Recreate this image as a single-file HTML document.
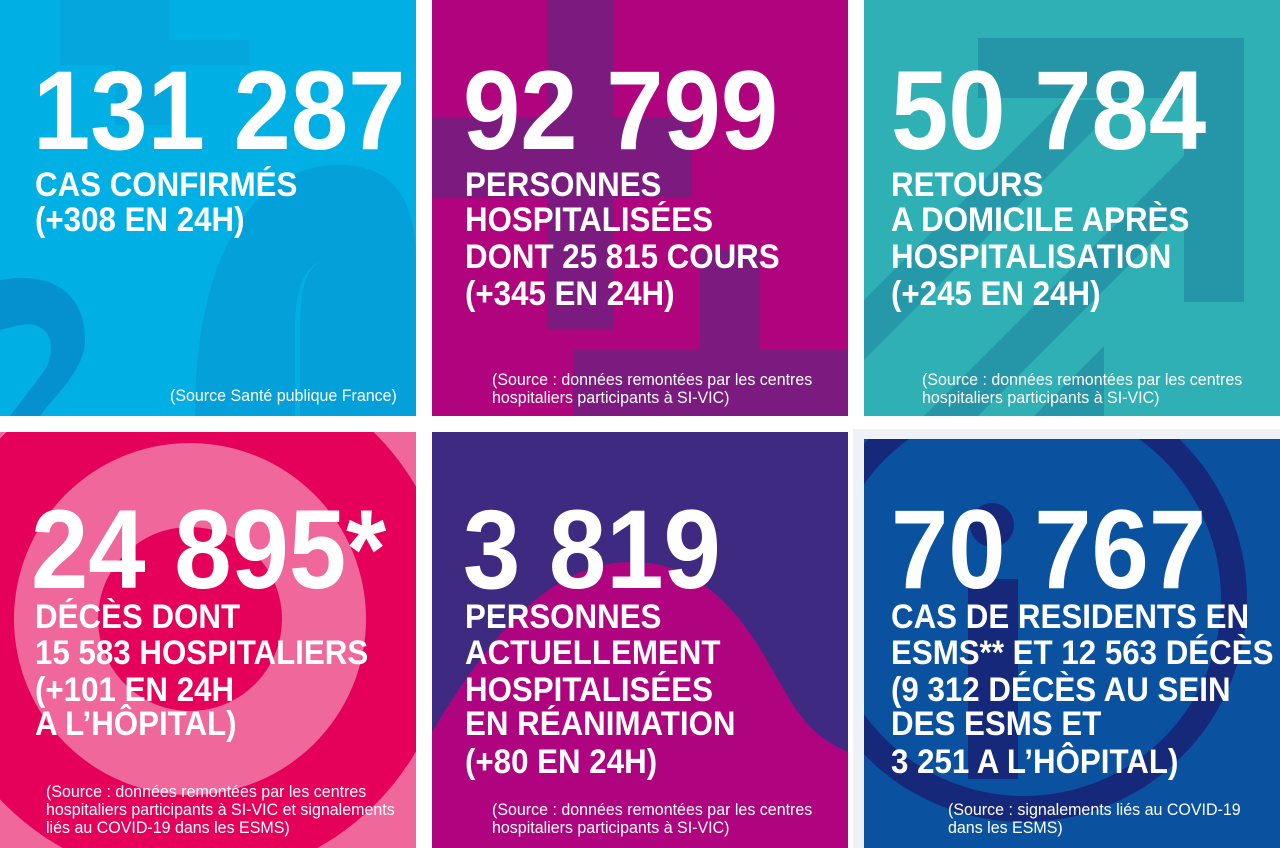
<!DOCTYPE html>
<html><head><meta charset="utf-8"><style>
*{margin:0;padding:0}
body{width:1280px;height:848px;background:#fff;position:relative;overflow:hidden;font-family:"Liberation Sans",Arial,sans-serif;color:#fff}
.t{position:absolute;overflow:hidden}
.t svg{position:absolute;left:0;top:0}
.n{position:absolute;font-weight:bold;font-size:112px;line-height:1;white-space:nowrap;transform:scaleX(0.92);transform-origin:0 0}
.l{position:absolute;font-weight:bold;font-size:34px;line-height:36px;white-space:nowrap;transform:scaleX(0.92);transform-origin:0 0}
.s{position:absolute;font-size:16.5px;line-height:18px;white-space:nowrap;transform:scaleX(0.97);transform-origin:0 0}
</style></head><body>
<div style="position:absolute;left:853px;top:429px;width:427px;height:419px;background:#eef2f7"></div>

<div class="t" style="left:0;top:0;width:416px;height:416px;background:#00b0e4">
<svg width="416" height="416"><path d="M60 0h110v40h80v25h-80v60h-55v-60H60z" fill="#04a6dd"/>
<path d="M0 280 C60 270 85 300 85 340 C85 370 55 395 40 416 H10 L45 370 C60 340 45 320 20 325 L0 330z" fill="#0590d0"/>
<path d="M195 416 C195 260 250 165 340 165 C400 165 416 210 416 260 V416 H300 V330 C300 280 310 260 330 260 C300 260 295 300 295 330 V416z" fill="#03a0da"/></svg>
<div class="n" style="left:33px;top:55px">131 287</div>
<div class="l" style="left:35px;top:167px">CAS CONFIRMÉS</div>
<div class="l" style="left:35px;top:202px">(+308 EN 24H)</div>
<div class="s" style="left:170px;top:387px">(Source Santé publique France)</div>
</div>

<div class="t" style="left:432px;top:0;width:416px;height:416px;background:#b0047e">
<svg width="416" height="416"><rect x="115" y="0" width="66" height="330" fill="#7b1b7f"/><rect x="0" y="117" width="260" height="81" fill="#7b1b7f"/>
<rect x="268" y="250" width="60" height="166" fill="#7b1b7f"/><rect x="141" y="350" width="275" height="66" fill="#7b1b7f"/></svg>
<div class="n" style="left:31px;top:55px">92 799</div>
<div class="l" style="left:33px;top:167px">PERSONNES</div>
<div class="l" style="left:33px;top:202px">HOSPITALISÉES</div>
<div class="l" style="left:33px;top:239px">DONT 25 815 COURS</div>
<div class="l" style="left:33px;top:276px">(+345 EN 24H)</div>
<div class="s" style="left:60px;top:371px">(Source : données remontées par les centres<br>hospitaliers participants à SI-VIC)</div>
</div>

<div class="t" style="left:864px;top:0;width:416px;height:416px;background:#2fb0b4">
<svg width="416" height="416"><path d="M114 38H380V302H320V98H114z" fill="#2596a8"/>
<path d="M0 300 L200 100 L260 100 L60 300 L0 360z" fill="#2596a8" opacity=".9"/>
<path d="M60 416 L330 146 L330 200 L114 416z" fill="#2596a8"/>
<path d="M170 416 L240 346 L240 416z" fill="#2596a8"/></svg>
<div class="n" style="left:27px;top:55px">50 784</div>
<div class="l" style="left:27px;top:167px">RETOURS</div>
<div class="l" style="left:27px;top:202px">A DOMICILE APRÈS</div>
<div class="l" style="left:27px;top:239px">HOSPITALISATION</div>
<div class="l" style="left:27px;top:276px">(+245 EN 24H)</div>
<div class="s" style="left:58px;top:371px">(Source : données remontées par les centres<br>hospitaliers participants à SI-VIC)</div>
</div>

<div class="t" style="left:0;top:432px;width:416px;height:416px;background:#f0689b">
<svg width="416" height="416"><circle cx="190" cy="187" r="262" fill="#e5005a"/><circle cx="190" cy="187" r="176" fill="#f0689b"/><circle cx="190" cy="187" r="92" fill="#e5005a"/></svg>
<div class="n" style="left:31px;top:62px">24 895*</div>
<div class="l" style="left:35px;top:167px">DÉCÈS DONT</div>
<div class="l" style="left:35px;top:203px">15 583 HOSPITALIERS</div>
<div class="l" style="left:35px;top:240px">(+101 EN 24H</div>
<div class="l" style="left:35px;top:274px">A L’HÔPITAL)</div>
<div class="s" style="left:46px;top:351px">(Source : données remontées par les centres<br>hospitaliers participants à SI-VIC et signalements<br>liés au COVID-19 dans les ESMS)</div>
</div>

<div class="t" style="left:432px;top:432px;width:416px;height:416px;background:#3f2a82">
<svg width="416" height="416"><path d="M0 416 V300 C60 200 120 130 200 130 C260 130 300 170 330 220 C360 270 370 300 416 320 V416z" fill="#b0037f"/></svg>
<div class="n" style="left:31px;top:62px">3 819</div>
<div class="l" style="left:33px;top:167px">PERSONNES</div>
<div class="l" style="left:33px;top:203px">ACTUELLEMENT</div>
<div class="l" style="left:33px;top:240px">HOSPITALISÉES</div>
<div class="l" style="left:33px;top:274px">EN RÉANIMATION</div>
<div class="l" style="left:33px;top:312px">(+80 EN 24H)</div>
<div class="s" style="left:60px;top:369px">(Source : données remontées par les centres<br>hospitaliers participants à SI-VIC)</div>
</div>

<div class="t" style="left:864px;top:439px;width:416px;height:409px;background:#0a52a0">
<svg width="416" height="409"><circle cx="160" cy="160" r="210" fill="none" stroke="#15287a" stroke-width="26"/>
<circle cx="128" cy="86" r="22" fill="#15287a"/><rect x="104" y="140" width="50" height="200" fill="#15287a"/></svg>
<div class="n" style="left:27px;top:55px">70 767</div>
<div class="l" style="left:27px;top:160px">CAS DE RESIDENTS EN</div>
<div class="l" style="left:27px;top:196px">ESMS** ET 12 563 DÉCÈS</div>
<div class="l" style="left:27px;top:233px">(9 312 DÉCÈS AU SEIN</div>
<div class="l" style="left:27px;top:267px">DES ESMS ET</div>
<div class="l" style="left:27px;top:305px">3 251 A L’HÔPITAL)</div>
<div class="s" style="left:84px;top:362px">(Source : signalements liés au COVID-19<br>dans les ESMS)</div>
</div>
</body></html>
